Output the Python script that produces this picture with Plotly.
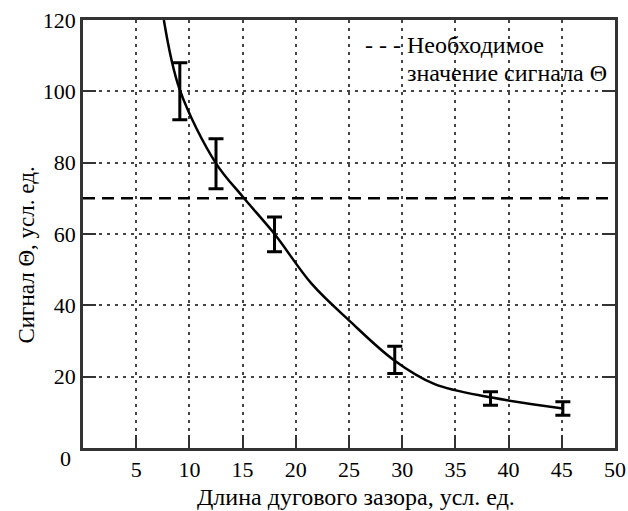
import plotly.graph_objects as go

# Measured points with error bars
meas_x = [9.1, 12.5, 18.0, 29.3, 38.3, 45.1]
meas_y = [100, 79.7, 59.9, 24.7, 13.9, 11.1]
meas_err = [8.0, 7.0, 4.9, 3.8, 1.9, 1.9]

# Fitted curve
curve_x = [7.6, 9.1, 12.5, 15.0, 18.0, 21.5, 25.0, 29.2, 33.0, 38.3, 45.1]
curve_y = [120, 100.4, 79.8, 70.5, 60, 46.0, 35.8, 24.7, 18.0, 14.2, 11.1]

# Required signal level
req_x = [0, 50]
req_y = [70, 70]

x_ticks = [5, 10, 15, 20, 25, 30, 35, 40, 45, 50]
y_ticks = [0, 20, 40, 60, 80, 100, 120]
y_ticktext = ["", "20", "40", "60", "80", "100", "120"]

FONT = "Liberation Serif"
FS = 22
FS_T = 24

fig = go.Figure()
fig.add_trace(go.Scatter(x=req_x, y=req_y, mode="lines",
                         line=dict(color="black", width=2.5, dash="12px,7px"),
                         showlegend=False, hoverinfo="skip"))
fig.add_trace(go.Scatter(x=curve_x, y=curve_y, mode="lines",
                         line=dict(color="black", width=2.5, shape="spline", smoothing=1.0),
                         showlegend=False))
fig.add_trace(go.Scatter(x=meas_x, y=meas_y, mode="markers",
                         marker=dict(size=1, color="black"),
                         error_y=dict(type="data", array=meas_err, visible=True,
                                      color="black", thickness=3, width=7.5),
                         showlegend=False))

axis_common = dict(showline=True, linecolor="#333", linewidth=2.5,
                   ticks="inside", ticklen=13, tickwidth=2, tickcolor="#333",
                   showgrid=True, gridcolor="#444", gridwidth=1.5, griddash="3px,5px",
                   zeroline=False,
                   tickfont=dict(family=FONT, size=FS, color="black"))

fig.update_xaxes(range=[0, 50], tickvals=x_ticks, mirror=True, **axis_common)
fig.update_yaxes(range=[0, 120], tickvals=y_ticks, ticktext=y_ticktext, mirror="ticks", **axis_common)

annotations = [
    dict(text="- - - Необходимое", xref="paper", yref="paper",
         x=(363 - 82.5) / 532.5, y=(448 - 45) / 428, xanchor="left", yanchor="middle",
         showarrow=False, font=dict(family=FONT, size=FS_T, color="black")),
    dict(text="значение сигнала Θ", xref="paper", yref="paper",
         x=(405 - 82.5) / 532.5, y=(448 - 73) / 428, xanchor="left", yanchor="middle",
         showarrow=False, font=dict(family=FONT, size=FS_T, color="black")),
    dict(text="Длина дугового зазора, усл. ед.", xref="paper", yref="paper",
         x=(356 - 82.5) / 532.5, y=(448 - 497) / 428, xanchor="center", yanchor="middle",
         showarrow=False, font=dict(family=FONT, size=FS_T, color="black")),
    dict(text="Сигнал Θ, усл. ед.", xref="paper", yref="paper", textangle=-90,
         x=(25 - 82.5) / 532.5, y=(448 - 255) / 428, xanchor="center", yanchor="middle",
         showarrow=False, font=dict(family=FONT, size=23, color="black")),
    dict(text="0", xref="paper", yref="paper",
         x=(72 - 82.5) / 532.5, y=(448 - 458) / 428, xanchor="right", yanchor="middle",
         showarrow=False, font=dict(family=FONT, size=FS, color="black")),
]

fig.update_layout(width=628, height=511,
                  margin=dict(l=82.5, r=13, t=20, b=63, autoexpand=False),
                  paper_bgcolor="white", plot_bgcolor="white",
                  font=dict(family=FONT, size=FS, color="black"),
                  annotations=annotations, showlegend=False)

fig.write_html("out.html")
